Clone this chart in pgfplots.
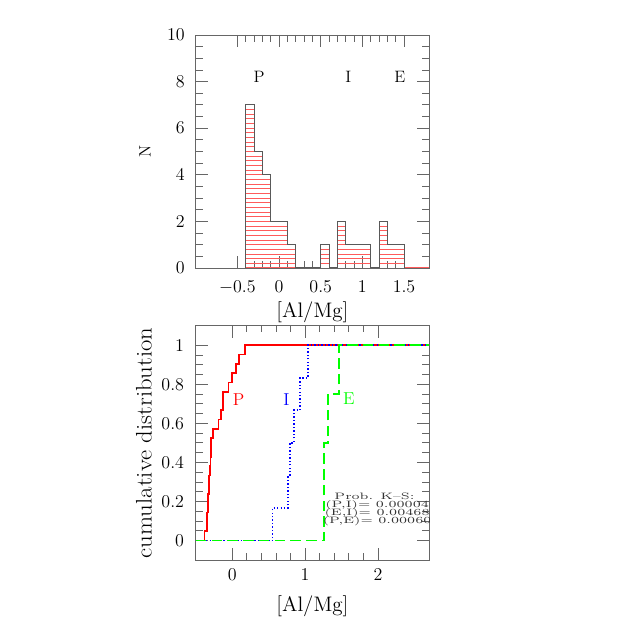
\documentclass[border=0pt]{standalone}
\usepackage{graphicx}
\usepackage{pgfplots}
\pgfplotsset{compat=1.18}

\definecolor{hatch}{RGB}{255,90,90}

\pgfplotsset{
  smstyle/.style={
    scale only axis, width=155.5pt,
    axis line style={black!60, line width=0.5pt},
    every tick/.style={black!60, line width=0.5pt},
    major tick length=8pt, minor tick length=4.5pt,
    tick align=inside,
    tick label style={font=\fontsize{12}{14}\selectfont},
    label style={font=\fontsize{14}{16}\selectfont},
  },
  hl/.style={hatch, line width=0.6pt, unbounded coords=jump, forget plot},
}
\newcommand{\ks}[1]{\scalebox{1.42}[1]{\fontsize{6.2}{7}\selectfont #1}}

\begin{document}
\begin{tikzpicture}
\path[use as bounding box] (0,0) rectangle (425.33pt,425.33pt);

% histogram
\begin{axis}[smstyle, at={(130.5pt,246.7pt)}, anchor=south west, height=155.3pt,
  xmin=-1, xmax=1.8, ymin=0, ymax=10,
  xtick={-0.5,0,0.5,1,1.5}, minor x tick num=4,
  ytick={0,2,4,6,8,10}, minor y tick num=3,
  xticklabel style={yshift=-5.3pt},
  yticklabel style={xshift=-3.8pt},
  xlabel={[Al/Mg]}, ylabel={N},
  xlabel style={at={(axis description cs:0.5,-0.1887)}, anchor=center},
  ylabel style={at={(axis description cs:-0.2174,0.5)}, anchor=center, font=\fontsize{11}{13}\selectfont},
]
  % horizontal hatching, one band per bar height
  \pgfplotsinvokeforeach{0.2,0.4,0.6,0.8}{
    \addplot[hl] coordinates {(-0.4,#1) (0.2,#1) (nan,nan) (0.5,#1) (0.6,#1) (nan,nan)
                              (0.7,#1) (1.1,#1) (nan,nan) (1.2,#1) (1.5,#1)};}
  \pgfplotsinvokeforeach{1.0,1.2,1.4,1.6,1.8}{
    \addplot[hl] coordinates {(-0.4,#1) (0.1,#1) (nan,nan) (0.7,#1) (0.8,#1) (nan,nan)
                              (1.2,#1) (1.3,#1)};}
  \pgfplotsinvokeforeach{2.0,2.2,2.4,2.6,2.8,3.0,3.2,3.4,3.6,3.8}{
    \addplot[hl] coordinates {(-0.4,#1) (-0.1,#1)};}
  \pgfplotsinvokeforeach{4.0,4.2,4.4,4.6,4.8}{
    \addplot[hl] coordinates {(-0.4,#1) (-0.2,#1)};}
  \pgfplotsinvokeforeach{5.0,5.2,5.4,5.6,5.8,6.0,6.2,6.4,6.6,6.8}{
    \addplot[hl] coordinates {(-0.4,#1) (-0.3,#1)};}
  \addplot[hl] coordinates {(-0.4,0) (0.2,0) (nan,nan) (1.5,0) (1.8,0)};
  % outline
  \addplot[const plot mark left, draw=black!65, line width=0.6pt] coordinates {
    (-0.4,0) (-0.4,7) (-0.3,5) (-0.2,4) (-0.1,2) (0.1,1) (0.2,0) (0.5,1) (0.6,0)
    (0.7,2) (0.8,1) (1.1,0) (1.2,2) (1.3,1) (1.5,0)};
  \node[font=\fontsize{11}{13}\selectfont] at (axis cs:-0.24,8.2) {P};
  \node[font=\fontsize{11}{13}\selectfont] at (axis cs:0.83,8.2) {I};
  \node[font=\fontsize{11}{13}\selectfont] at (axis cs:1.45,8.2) {E};
\end{axis}

% cumulative distributions
\begin{axis}[smstyle, at={(130.5pt,52pt)}, anchor=south west, height=156.2pt,
  xmin=-0.5, xmax=2.7, ymin=-0.1, ymax=1.1,
  xtick={0,1,2}, minor x tick num=4,
  ytick={0,0.2,0.4,0.6,0.8,1}, yticklabels={0,0.2,0.4,0.6,0.8,1}, minor y tick num=3,
  xticklabel style={yshift=-2.3pt},
  yticklabel style={xshift=-4.3pt},
  xlabel={[Al/Mg]}, ylabel={\scalebox{1.1}[1]{cumulative distribution}},
  xlabel style={at={(axis description cs:0.5,-0.1965)}, anchor=center},
  ylabel style={at={(axis description cs:-0.222,0.5)}, anchor=center, font=\fontsize{15}{17}\selectfont},
]
  \addplot[const plot mark left, red, line width=1.1pt] coordinates {
    (-0.38,0) (-0.38,0.0476) (-0.35,0.0952) (-0.345,0.1429) (-0.335,0.1905)
    (-0.33,0.2381) (-0.322,0.2857) (-0.315,0.3333) (-0.308,0.3810) (-0.30,0.4286)
    (-0.295,0.4762) (-0.29,0.5238) (-0.26,0.5714) (-0.19,0.6190) (-0.155,0.6667)
    (-0.128,0.7619) (-0.05,0.8095) (0.0,0.8571) (0.055,0.9048) (0.09,0.9524)
    (0.18,1) (2.7,1)};
  \addplot[const plot mark left, blue, line width=1.1pt, dash pattern=on 0.9pt off 1.4pt] coordinates {
    (-0.5,0) (0.555,0.1667) (0.77,0.3333) (0.79,0.5) (0.845,0.6667)
    (0.93,0.8333) (1.04,1) (2.7,1)};
  \addplot[const plot mark left, green, line width=1.1pt, dash pattern=on 7pt off 3.5pt] coordinates {
    (-0.5,0) (1.258,0.5) (1.31,0.75) (1.465,1) (2.7,1)};
  \node[red, font=\fontsize{11.5}{13}\selectfont] at (axis cs:0.087,0.724) {P};
  \node[blue, font=\fontsize{11.5}{13}\selectfont] at (axis cs:0.744,0.724) {I};
  \node[green, font=\fontsize{11.5}{13}\selectfont] at (axis cs:1.60,0.724) {E};
  \node[black!80, inner sep=0pt] at (axis cs:1.952,0.226) {\ks{Prob. K--S:}};
  \node[black!80, inner sep=0pt] at (axis cs:1.988,0.183) {\ks{(P,I)= 0.00004}};
  \node[black!80, inner sep=0pt] at (axis cs:1.988,0.140) {\ks{(E,I)= 0.00468}};
  \node[black!80, inner sep=0pt] at (axis cs:1.988,0.097) {\ks{(P,E)= 0.00060}};
\end{axis}
\end{tikzpicture}
\end{document}
